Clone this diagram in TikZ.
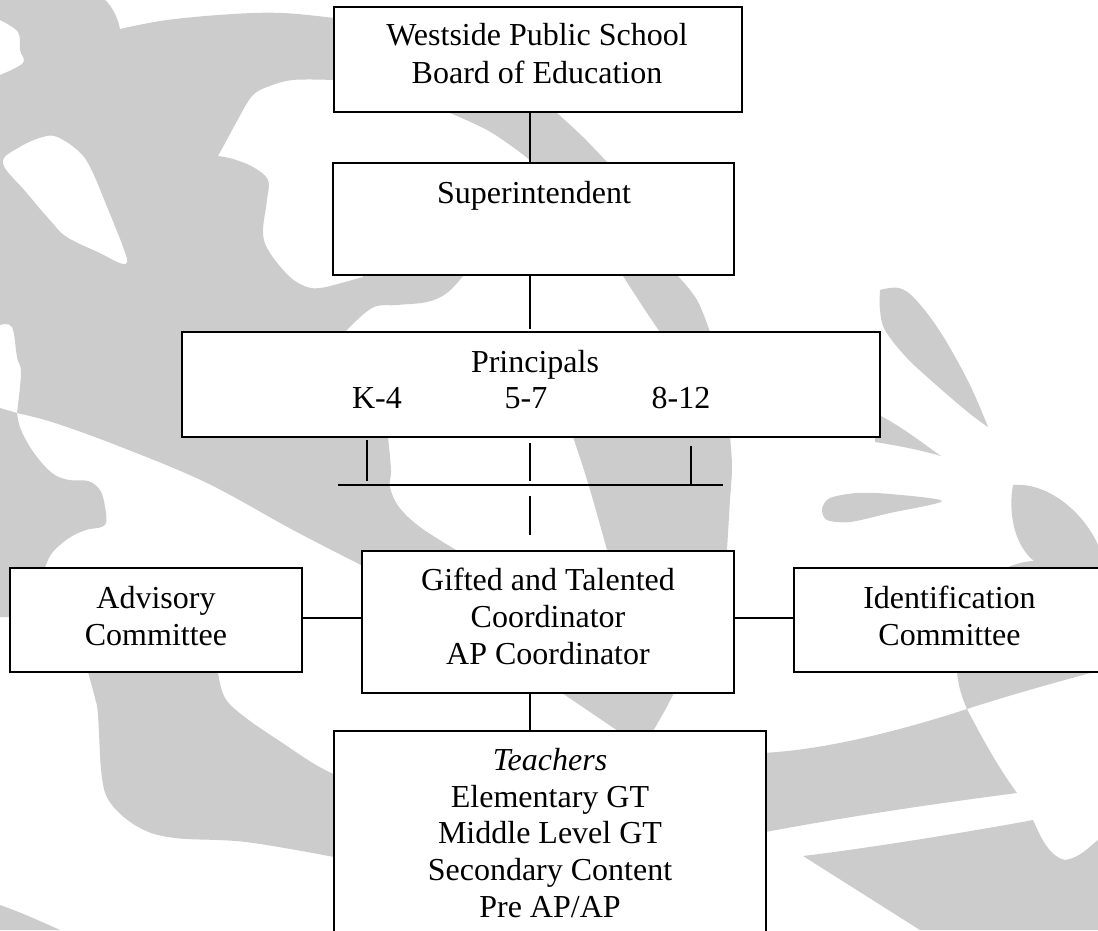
\documentclass[tikz,border=0pt]{standalone}
\usepackage{fontspec}
\setmainfont{Liberation Serif}
\definecolor{bggray}{RGB}{204,204,204}
\tikzset{
  box/.style={draw=black, line width=1.5pt, fill=white, rectangle, inner sep=0pt},
  lbl/.style={anchor=base, inner sep=0pt, font=\fontsize{32}{37}\selectfont},
  link/.style={draw=black, line width=1.1pt},
  bg/.style={fill=bggray},
  sm/.style={smooth, tension=0.6}
}
\begin{document}
\begin{tikzpicture}[x=1pt, y=-1pt]
\useasboundingbox (0,0) rectangle (1098,930);
\clip (0,0) rectangle (1098,930);
\fill[white] (0,0) rectangle (1098,930);

% ---------- background shapes ----------
% large upper-left shape
\fill[bg] (0,0) -- (105,0) .. controls (112,6) and (118,18) .. (120,29)
  -- plot[sm] coordinates {(120,29) (167,20) (233,14) (283,13) (334,18)}
  -- (340,18) -- (340,80)
  -- plot[sm] coordinates {(334,80) (293,80) (267,87) (253,95) (243,110)}
  -- (218,156)
  -- plot[sm] coordinates {(218,156) (233,159) (253,167) (268,180) (267,200) (263,233) (270,253) (290,277) (307,287) (320,288) (334,285) (363,277)}
  -- (363,270) -- (463,270) -- (463,276)
  -- plot[sm] coordinates {(463,276) (447,293) (427,302) (397,305) (372,308) (345,332)}
  -- (380,400) -- (388,437)
  -- plot[sm] coordinates {(388,437) (391,470) (390,487) (399,507) (420,527) (456,550)}
  -- (456,570) -- (366,567)
  -- plot[sm] coordinates {(361,565) (293,530) (207,483) (121,447) (55,423) (17,413)}
  -- plot[sm] coordinates {(17,413) (21,373) (17,357) (12,327) (0,325)}
  -- (0,75)
  -- plot[sm] coordinates {(0,75) (23,63) (20,50) (18,32) (0,20)}
  -- cycle;
\fill[white] plot[smooth cycle, tension=0.6] coordinates {(3,163) (20,147) (43,137) (57,137) (77,150) (90,167) (107,207) (123,247) (127,262) (120,263) (100,253) (67,237) (50,220) (27,193)};
% left middle shape
\fill[bg] (0,408) -- (17,413)
  -- plot[sm] coordinates {(17,413) (21,430) (34,453) (52,473) (69,480) (88,481) (100,490) (105,507) (105,525) (86,530) (69,538) (52,553) (45,568)}
  -- (40,600) -- (10,617) -- (0,617) -- cycle;
% band below Advisory
\fill[bg] plot[sm] coordinates {(218,672) (225,698) (246,718) (281,742) (316,765) (340,777)}
  -- (340,857)
  -- plot[sm] coordinates {(334,857) (246,842) (175,838) (140,828) (112,805) (102,778) (98,715) (95,698) (88,672)}
  -- (88,665) -- (218,665) -- cycle;
% bottom-left corner
\fill[bg] (0,905) .. controls (20,912) and (40,921) .. (60,930) -- (0,930) -- cycle;
% central arc
\fill[bg] (450,113)
  -- plot[sm] coordinates {(450,113) (487,130) (517,150) (533,163)}
  -- (560,170) -- (623,276)
  -- plot[sm] coordinates {(623,276) (647,313) (660,332)}
  -- (640,380) -- (573,437)
  -- plot[sm] coordinates {(573,437) (583,467) (593,500) (607,550)}
  -- (580,620) -- (562,693)
  -- plot[sm] coordinates {(562,693) (590,712) (618,731)}
  -- (635,740) -- (653,731)
  -- plot[sm] coordinates {(653,731) (664,712) (674,693)}
  -- (720,620) -- (727,550)
  -- plot[sm] coordinates {(727,550) (730,500) (732,467) (730,437)}
  -- (720,380) -- (710,332)
  -- plot[sm] coordinates {(710,332) (697,300) (678,276)}
  -- (640,200) -- (607,162)
  -- plot[sm] coordinates {(607,162) (583,137) (557,113)}
  -- (557,105) -- (450,105) -- cycle;
% right upper leaf
\fill[bg] plot[sm] coordinates {(988,427) (969,383) (941,333) (916,300) (899,288) (880,290)}
  -- plot[sm] coordinates {(880,290) (880,310) (885,330) (906,357) (934,383) (969,413) (988,427)} -- cycle;
% wedge right of Principals
\fill[bg] (875,413) .. controls (900,425) and (925,445) .. (941,456)
  .. controls (920,450) and (900,446) .. (875,442) -- cycle;
% small leaf
\fill[bg] plot[smooth cycle, tension=0.5] coordinates {(822,509) (830,498) (857,493) (890,494) (942,501) (890,513) (850,522) (827,520)};
% right leaf above Identification
\fill[bg] (1013,485) .. controls (1050,482) and (1085,515) .. (1098,545)
  -- (1098,570) -- (1002,570) .. controls (1015,563) and (1028,561) .. (1034,561)
  .. controls (1014,545) and (1008,512) .. (1013,485) -- cycle;
% below Identification
\fill[bg] (957,668) -- (1098,668) -- (1098,671)
  .. controls (1060,681) and (1000,698) .. (967,709)
  .. controls (962,698) and (958,685) .. (957,672) -- cycle;
\fill[bg] (760,753) .. controls (820,751) and (900,731) .. (967,709)
  .. controls (983,740) and (1000,770) .. (1017,793)
  .. controls (940,803) and (850,816) .. (760,833) -- cycle;
% bottom right
\fill[bg] (803,856) .. controls (870,848) and (980,830) .. (1033,820)
  .. controls (1040,835) and (1048,856) .. (1065,860)
  .. controls (1080,858) and (1090,846) .. (1098,840)
  -- (1098,930) -- (920,930) -- cycle;

% ---------- boxes ----------
\node[box, minimum width=408pt, minimum height=105pt] (board) at (538,59.5) {};
\node[box, minimum width=401pt, minimum height=112pt] (sup) at (533.5,219) {};
\node[box, minimum width=698pt, minimum height=105pt] (princ) at (531,384.5) {};
\node[box, minimum width=372pt, minimum height=142pt] (gt) at (548,622) {};
\node[box, minimum width=292pt, minimum height=104pt] (adv) at (156,620) {};
\node[box, minimum width=311pt, minimum height=104pt] (ident) at (949.5,620) {};
\node[box, minimum width=432pt, minimum height=219pt] (teach) at (550,840.5) {};

% ---------- texts ----------
\node[lbl] (board1) at (537,45) {Westside Public School};
\node[lbl] (board2) at (537,83) {Board of Education};
\node[lbl] (sup1) at (534,203) {Superintendent};
\node[lbl] (princ1) at (535,372) {Principals};
\node[lbl] (princk) at (377,408) {K-4};
\node[lbl] (princm) at (526,408) {5-7};
\node[lbl] (princh) at (681,408) {8-12};
\node[lbl] (gt1) at (548,590) {Gifted and Talented};
\node[lbl] (gt2) at (548,627) {Coordinator};
\node[lbl] (gt3) at (548,664) {AP Coordinator};
\node[lbl] (adv1) at (156,608) {Advisory};
\node[lbl] (adv2) at (156,645) {Committee};
\node[lbl] (ident1) at (949.5,608) {Identification};
\node[lbl] (ident2) at (949.5,645) {Committee};
\node[lbl] (teach1) at (550,770) {\itshape Teachers};
\node[lbl] (teach2) at (550,807) {Elementary GT};
\node[lbl] (teach3) at (550,843) {Middle Level GT};
\node[lbl] (teach4) at (550,880) {Secondary Content};
\node[lbl] (teach5) at (550,917) {Pre AP/AP};

% ---------- connectors ----------
\coordinate (spine) at (530,0);
\coordinate (pTop) at (530,329);
\coordinate (hy) at (0,618);
\coordinate (barL) at (338,485);
\coordinate (barR) at (723,485);
\coordinate (k4a) at (367,440);
\coordinate (k4b) at (367,481);
\coordinate (mida) at (530,443);
\coordinate (midb) at (530,481);
\coordinate (hia) at (691,446);
\coordinate (hib) at (691,485);
\coordinate (dsa) at (530,496);
\coordinate (dsb) at (530,535);

\draw[link] (board.south -| spine) -- (sup.north -| spine);
\draw[link] (sup.south -| spine) -- (pTop);
\draw[link] (k4a) -- (k4b);
\draw[link] (mida) -- (midb);
\draw[link] (hia) -- (hib);
\draw[link] (barL) -- (barR);
\draw[link] (dsa) -- (dsb);
\draw[link] (adv.east |- hy) -- (gt.west |- hy);
\draw[link] (gt.east |- hy) -- (ident.west |- hy);
\draw[link] (gt.south -| spine) -- (teach.north -| spine);
\end{tikzpicture}
\end{document}
